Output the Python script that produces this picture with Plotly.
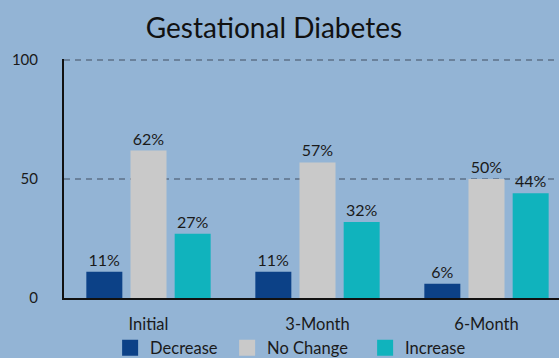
import plotly.graph_objects as go

# Share of patients by change category at each follow-up point
periods = ["Initial", "3-Month", "6-Month"]
decrease = [11, 11, 6]
no_change = [62, 57, 50]
increase = [27, 32, 44]

series = [
    ("Decrease", decrease, "#0c4187", 72),
    ("No Change", no_change, "#c9c9c9", 93),
    ("Increase", increase, "#10b3bd", 70),
]

FONT = "Lato"
BG = "#93b4d5"

fig = go.Figure()
for name, vals, color, _ in series:
    fig.add_trace(go.Bar(
        name=name,
        x=periods,
        y=vals,
        marker=dict(color=color, line=dict(width=0)),
        text=[f"{v}%" for v in vals],
        textposition="outside",
        textfont=dict(family=FONT, size=16, color="#1a1a1a"),
        cliponaxis=False,
        showlegend=False,
    ))

# legend entries drawn as square swatches
for name, vals, color, lw in series:
    fig.add_trace(go.Scatter(
        name=name, x=[None], y=[None], mode="markers",
        marker=dict(symbol="square", size=16, color=color),
        showlegend=True, legendwidth=lw,
    ))

fig.update_layout(
    width=559, height=358,
    margin=dict(l=64, r=0, t=59, b=60, autoexpand=False),
    paper_bgcolor=BG,
    plot_bgcolor=BG,
    barmode="group",
    bargap=0.216,
    bargroupgap=0.185,
    title=dict(text="Gestational Diabetes", x=0.49, xanchor="center",
               y=0.922, yanchor="middle",
               font=dict(family=FONT, size=28, color="#111111")),
    font=dict(family=FONT, color="#1a1a1a"),
    showlegend=True,
    legend=dict(orientation="h", xref="container", x=0.197, xanchor="left",
                yref="container", y=0.028, yanchor="middle",
                font=dict(family=FONT, size=16.5, color="#1a1a1a"),
                bgcolor="rgba(0,0,0,0)", itemwidth=30),
    xaxis=dict(range=[-0.5, 2.429], showgrid=False, showline=True,
               linecolor="#111111", linewidth=2, ticks="", automargin=False,
               tickfont=dict(family=FONT, size=16.5, color="#1a1a1a"),
               ticklabelstandoff=10),
    yaxis=dict(range=[0, 100.5], tickvals=[0, 50, 100],
               showgrid=True, gridcolor="#6a819b", gridwidth=1.5, griddash="6px,5px",
               showline=True, linecolor="#111111", linewidth=2,
               zeroline=False, ticks="", automargin=False,
               tickfont=dict(family=FONT, size=15, color="#1a1a1a"),
               ticklabelstandoff=21),
)

fig.write_html("out.html")
